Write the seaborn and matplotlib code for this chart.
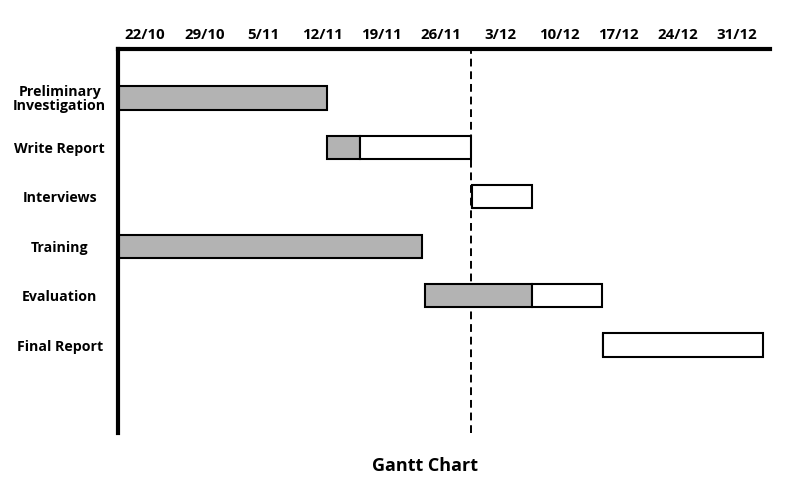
import numpy as np
import pandas as pd
import matplotlib
matplotlib.use("Agg")
import matplotlib.pyplot as plt
import seaborn as sns

# tasks and their timing, in days counted from 22/10
tasks = ["Preliminary\nInvestigation", "Write Report", "Interviews",
         "Training", "Evaluation", "Final Report"]
start_day = [-3.2, 21.5, 38.7, -3.2, 33.1, 54.2]
done_days = [24.7, 3.9, 0.0, 35.9, 12.7, 0.0]
left_days = [0.0, 13.2, 7.1, 0.0, 8.2, 18.9]
today_day = 38.5

week_days = [0, 7, 14, 21, 28, 35, 42, 49, 56, 63, 70]
week_labels = ["22/10", "29/10", "5/11", "12/11", "19/11", "26/11",
               "3/12", "10/12", "17/12", "24/12", "31/12"]

df = pd.DataFrame({"task": tasks, "start": start_day,
                   "done": done_days, "left": left_days})
df["pos"] = np.arange(len(df))

sns.set_style("white")
plt.rcParams["font.family"] = ["Open Sans", "DejaVu Sans"]
plt.rcParams["text.color"] = "black"
plt.rcParams["xtick.color"] = "black"
plt.rcParams["ytick.color"] = "black"

fig = plt.figure(figsize=(8, 5), dpi=100)
ax = fig.add_axes([0.1475, 0.134, 0.815, 0.768])

h = 0.47
ax.axvline(today_day, color="black", lw=1.4, ls=(0, (4, 2.5)), zorder=1)
ax.barh(df["pos"], df["done"], left=df["start"], height=h,
        color="#b3b3b3", edgecolor="black", lw=1.5, zorder=2)
has_left = df["left"] > 0
ax.barh(df["pos"][has_left], df["left"][has_left],
        left=(df["start"] + df["done"])[has_left], height=h,
        color="white", edgecolor="black", lw=1.5, zorder=2)

ax.set_xlim(-3.2, 73.9)
ax.set_ylim(6.78, -0.99)

ax.xaxis.tick_top()
ax.set_xticks(week_days)
ax.set_xticklabels(week_labels, fontsize=10.8, fontweight="bold")
ax.set_yticks(df["pos"])
ax.set_yticklabels(df["task"], fontsize=10.2, fontweight="bold",
                   ha="center", linespacing=0.95)
ax.tick_params(axis="x", length=0, pad=5)
ax.tick_params(axis="y", length=0, pad=42)

for s in ["right", "bottom"]:
    ax.spines[s].set_visible(False)
for s in ["top", "left"]:
    ax.spines[s].set_linewidth(3)
    ax.spines[s].set_color("black")

fig.text(425 / 800, 1 - 466 / 500, "Gantt Chart", ha="center", va="center",
         fontsize=13, fontweight="bold")

fig.savefig("out.png", dpi=100)
